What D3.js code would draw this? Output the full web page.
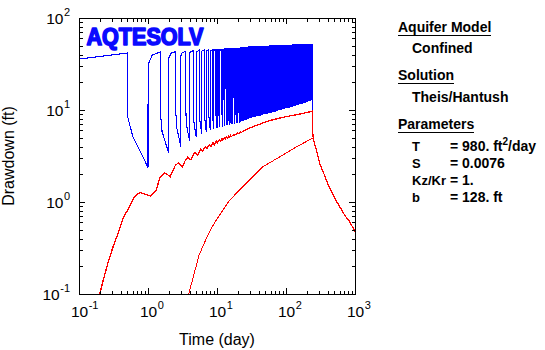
<!DOCTYPE html>
<html><head><meta charset="utf-8">
<script src="https://cdn.jsdelivr.net/npm/d3@7"></script>
<style>
body{margin:0;background:#fff}
svg{display:block}
text{font-family:Arial,"Liberation Sans",sans-serif;fill:#000}
</style>
</head><body>
<svg id="chart" width="545" height="350"></svg>
<script>
// ---------------- DATA ----------------
const xTickExponents = [-1, 0, 1, 2, 3];
const yTickExponents = [-1, 0, 1, 2];
const xTitle = "Time (day)";
const yTitle = "Drawdown (ft)";
const logoText = "AQTESOLV";

const panelHeadings = ["Aquifer Model", "Solution", "Parameters"];
const panelModel = "Confined";
const panelSolution = "Theis/Hantush";
const paramNames = ["T", "S", "Kz/Kr", "b"];
const paramValues = ["= 980. ft", "= 0.0076", "= 1.", "= 128. ft"];
const paramSup = ["2", "", "", ""];
const paramTail = ["/day", "", "", ""];

// Observed drawdown (blue): cyclic pumping, one cycle per day, pump on for the first half day
const pumpOffAt = 0.5;          // day fraction at which the pump stops in each cycle
const blueStart = [0.1, 35.8];  // first visible observation
// drawdown at the end of each pumping half-cycle, cycles k = 0..240
const bluePeak = [
41.6,42.6,43.0,43.0,44.0,44.9,44.9,44.9,44.9,44.9,
44.9,44.9,44.9,46.7,46.7,46.7,46.7,46.7,46.7,46.7,
46.7,46.7,47.7,47.7,47.7,47.7,47.7,47.7,47.7,48.8,
48.8,48.8,48.8,48.8,48.8,48.8,48.8,48.8,48.8,48.8,
48.8,48.8,48.8,48.8,48.8,48.8,48.8,48.8,48.8,48.8,
48.8,48.8,48.8,48.8,48.8,48.8,48.8,48.8,50.0,50.0,
50.0,50.0,50.0,50.0,50.0,50.0,50.0,50.0,50.0,50.0,
50.0,50.0,50.0,50.0,50.0,50.0,50.0,50.0,50.0,50.0,
50.0,50.0,50.0,50.0,50.0,50.0,50.0,50.0,50.0,50.0,
50.0,50.0,50.0,50.0,50.0,50.0,50.0,50.0,50.0,50.0,
50.0,50.0,50.0,50.0,50.0,50.0,50.0,50.0,50.0,50.0,
50.0,50.0,50.0,50.0,50.0,50.0,50.0,50.0,50.0,50.0,
50.0,50.0,50.0,50.0,50.0,51.3,51.3,51.3,51.3,51.3,
51.3,51.3,51.3,51.3,51.3,51.3,51.3,51.3,51.3,51.3,
51.3,51.3,51.3,51.3,51.3,51.3,51.3,51.3,51.3,51.3,
51.3,51.3,51.3,51.3,51.3,51.3,51.3,51.3,51.3,51.3,
51.3,51.3,51.3,51.3,51.3,51.3,51.3,51.3,51.3,51.3,
51.3,51.3,51.3,51.3,51.3,51.3,51.3,51.3,51.3,51.3,
51.3,51.3,51.3,51.3,51.3,51.3,51.3,51.3,51.3,51.3,
51.3,51.3,51.3,51.3,51.3,51.3,51.3,51.3,51.3,51.3,
51.3,51.3,51.3,51.3,51.3,51.3,51.3,51.3,51.3,51.3,
51.3,51.3,51.3,51.3,51.3,51.3,51.3,51.3,51.3,51.3,
51.3,51.3,51.3,51.3,51.3,51.3,51.3,51.3,51.3,51.3,
51.3,51.3,51.3,51.3,51.3,51.3,51.3,51.3,51.3,51.3,
51.3];
// drawdown at the end of each recovery half-cycle (t = k+1), k = 0..239
const blueTrough = [
2.38,3.4,4.0,4.6,5.1,5.5,5.8,6.0,6.2,6.4,
6.5,6.6,6.7,6.8,6.9,7.0,7.0,7.1,7.2,7.2,
7.3,7.4,7.5,7.6,7.7,7.7,7.8,7.9,8.0,8.1,
8.2,8.2,8.3,8.3,8.4,8.4,8.5,8.5,8.6,8.6,
8.7,8.7,8.8,8.8,8.9,8.9,9.0,9.0,9.0,9.0,
9.1,9.1,9.1,9.1,9.2,9.2,9.2,9.2,9.3,9.3,
9.3,9.3,9.4,9.4,9.4,9.4,9.5,9.5,9.5,9.5,
9.7,9.7,9.7,9.7,9.9,9.9,9.9,9.9,10.0,10.0,
10.0,10.1,10.1,10.1,10.1,10.1,10.2,10.2,10.2,10.2,
10.2,10.3,10.3,10.3,10.3,10.3,10.4,10.4,10.4,10.4,
10.4,10.5,10.5,10.5,10.5,10.5,10.6,10.6,10.6,10.6,
10.6,10.7,10.7,10.7,10.7,10.7,10.8,10.8,10.8,10.8,
10.8,10.9,10.9,10.9,10.9,10.9,11.0,11.0,11.0,11.0,
11.0,11.1,11.1,11.1,11.1,11.1,11.2,11.2,11.2,11.2,
11.2,11.3,11.3,11.4,11.4,11.4,11.4,11.4,11.4,11.4,
11.5,11.5,11.5,11.5,11.5,11.5,11.5,11.6,11.6,11.6,
11.6,11.6,11.6,11.6,11.7,11.7,11.7,11.7,11.7,11.7,
11.7,11.8,11.8,11.8,11.8,11.8,11.8,11.8,11.9,11.9,
11.9,11.9,11.9,11.9,11.9,12.0,12.0,12.0,12.0,12.0,
12.0,12.0,12.2,12.2,12.2,12.2,12.2,12.2,12.2,12.3,
12.3,12.3,12.3,12.3,12.3,12.3,12.4,12.4,12.4,12.4,
12.4,12.4,12.4,12.5,12.5,12.5,12.5,12.5,12.5,12.5,
12.6,12.6,12.6,12.6,12.6,12.6,12.6,12.7,12.7,12.7,
12.7,12.7,12.7,12.7,12.8,12.8,12.8,12.8,12.8,12.8];
// early-cycle detail that is visible on the log time axis
const blueRise    = [null, 31, 36.6, 39, 41, 42.5, 43.5, 44, 44.5];      // just after pump on
const blueRiseMid = [null, 39.5, 41.5, 42.3, 43.3];                      // 0.15 d after pump on
const blueDrop = [8.6,10,11,12,13,14,14.5,15,15.5,16,
                  16.5,17,17.5,18,18.5,19,19,19,19.5,19.5,
                  19.5,20,20,20,20.5,20.5,20.5,21,21,21,
                  21.5,21.5,21.5,22,22,22,22,22.5,22.5,22.5,23];          // just after pump off
const blueMid = [5.2,5.8,6.5,7.0,7.6,8.0,8.4,8.7,9.0,9.3,9.6];          // 0.1 d after pump off
// final recovery after pumping stopped
const blueRecT = [240.6, 252, 276, 308, 344, 385, 430, 508, 600, 709, 838, 1000];
const blueRecS = [6.0, 4.72, 3.67, 2.63, 2.13, 1.73, 1.41, 1.10, 0.89, 0.72, 0.61, 0.475];

// Theis/Hantush solution, nearer well (red, upper)
const redUpperT = [0.2,0.228,0.27,0.318,0.377,0.444,0.525,0.62,0.70,0.78,0.917,1.1,1.31,1.51,1.75,1.9,2.1,2.3,2.5,2.75,2.9,3.15,3.4,3.75,3.95,4.2,4.45,4.75,5.0,5.2,5.45,5.75,6.2,6.75,7.15,7.75,8.15,8.75,9.15,9.75,10.15,10.75,11.15,11.75,12.15,12.75,13.15,13.75,14.15,14.75,15.15,15.75,16.15,17.75,18.15,19.75,20.15,21.75,22.15,24,27,30,35,40,46,55,65,81,100,120,143,170,200,236,240.5,240.6,246,252,262,276,292,308,325,344,365,385,407,430,468,508,552,600,652,709,770,838,915,1000];
const redUpperS = [0.1,0.148,0.234,0.341,0.476,0.692,0.854,1.10,1.22,1.27,1.21,1.16,1.35,1.88,2.07,2.0,1.88,2.2,2.52,2.65,2.55,2.42,2.75,3.05,2.95,2.86,3.15,3.45,3.35,3.22,3.45,3.75,3.55,4.0,3.8,4.2,4.0,4.4,4.2,4.6,4.4,4.75,4.55,4.9,4.7,5.0,4.85,5.1,4.95,5.2,5.05,5.3,5.15,5.45,5.35,5.6,5.5,5.75,5.65,5.9,6.15,6.37,6.7,6.95,7.21,7.55,7.85,8.17,8.45,8.7,8.88,9.15,9.4,9.66,9.74,6.05,5.3,4.72,4.2,3.67,3.1,2.63,2.38,2.13,1.93,1.73,1.56,1.41,1.25,1.10,0.99,0.89,0.80,0.72,0.66,0.61,0.54,0.475];

// Theis/Hantush solution, farther well (red, lower)
const redLowerT = [3.89,4.6,5.5,6.85,8.66,10.6,15.3,21.3,29.7,41.4,46.4,81.4,143,241,246,252,262,276,292,308,325,344,365,385,407,430,468,508,552,600,652,709,770,838,915,1000];
const redLowerS = [0.1,0.16,0.265,0.386,0.548,0.70,1.05,1.35,1.73,2.23,2.42,3.10,3.99,4.93,4.85,4.65,4.2,3.67,3.1,2.63,2.38,2.13,1.93,1.73,1.56,1.41,1.25,1.10,0.99,0.89,0.80,0.72,0.66,0.61,0.54,0.475];

// ---------------- CHART ----------------
const svg = d3.select("#chart");
const x = d3.scaleLog().domain([0.1, 1000]).range([79, 355]);
const y = d3.scaleLog().domain([0.1, 100]).range([294, 18]);

// build the blue observation sequence from the cycle arrays
const bluePts = [blueStart];
bluePeak.forEach((pk, k) => {
  if (k > 0) {
    bluePts.push([k, blueTrough[k - 1]]);
    bluePts.push([k + 0.004, blueRise[k] != null ? blueRise[k] : pk]);
    if (blueRiseMid[k] != null) bluePts.push([k + 0.15, blueRiseMid[k]]);
  }
  bluePts.push([k + pumpOffAt, pk]);
  if (k < blueTrough.length) {
    if (blueDrop[k] != null) bluePts.push([k + pumpOffAt + 0.004, blueDrop[k]]);
    if (blueMid[k] != null) bluePts.push([k + pumpOffAt + 0.1, blueMid[k]]);
    bluePts.push([k + 1, blueTrough[k]]);
  }
});
blueRecT.forEach((t, i) => bluePts.push([t, blueRecS[i]]));

const line = d3.line().x(d => x(d[0])).y(d => y(d[1]));

svg.append("defs").append("clipPath").attr("id", "clip")
  .append("rect").attr("x", 79).attr("y", 18).attr("width", 277).attr("height", 277);

const plotG = svg.append("g").attr("clip-path", "url(#clip)");
plotG.append("path").datum(bluePts).attr("d", line)
  .attr("fill", "none").attr("stroke", "#0000ff").attr("stroke-width", 1.1)
  .attr("shape-rendering", "crispEdges");
plotG.append("path").datum(redUpperT.map((t, i) => [t, redUpperS[i]])).attr("d", line)
  .attr("fill", "none").attr("stroke", "#ff0000").attr("stroke-width", 1.3)
  .attr("shape-rendering", "crispEdges");
plotG.append("path").datum(redLowerT.map((t, i) => [t, redLowerS[i]])).attr("d", line)
  .attr("fill", "none").attr("stroke", "#ff0000").attr("stroke-width", 1)
  .attr("shape-rendering", "crispEdges");

// axes: inside ticks on all four sides
const xMajor = xTickExponents.map(e => Math.pow(10, e));
const yMajor = yTickExponents.map(e => Math.pow(10, e));
const isMajor = v => Math.abs(Math.log10(v) - Math.round(Math.log10(v))) < 1e-9;
const xMinor = x.ticks().filter(v => !isMajor(v));
const yMinor = y.ticks().filter(v => !isMajor(v));
const MAJ = 6, MIN = 3.5;
function styleAxis(g) {
  g.select(".domain").remove();
  g.selectAll("line").attr("stroke", "#000").attr("shape-rendering", "crispEdges");
}
[[d3.axisBottom, 294, x, xMajor, xMinor], [d3.axisTop, 18, x, xMajor, xMinor]].forEach(([ax, ty, sc, maj, mn]) => {
  svg.append("g").attr("transform", `translate(0,${ty})`).call(ax(sc).tickValues(maj).tickSize(-MAJ).tickFormat("")).call(styleAxis);
  svg.append("g").attr("transform", `translate(0,${ty})`).call(ax(sc).tickValues(mn).tickSize(-MIN).tickFormat("")).call(styleAxis);
});
[[d3.axisLeft, 79, y, yMajor, yMinor], [d3.axisRight, 355, y, yMajor, yMinor]].forEach(([ax, tx, sc, maj, mn]) => {
  svg.append("g").attr("transform", `translate(${tx},0)`).call(ax(sc).tickValues(maj).tickSize(-MAJ).tickFormat("")).call(styleAxis);
  svg.append("g").attr("transform", `translate(${tx},0)`).call(ax(sc).tickValues(mn).tickSize(-MIN).tickFormat("")).call(styleAxis);
});
svg.append("rect").attr("x", 79.5).attr("y", 18.5).attr("width", 276).attr("height", 276)
  .attr("fill", "none").attr("stroke", "#000").attr("stroke-width", 1).attr("shape-rendering", "crispEdges");

// tick labels "10" with superscript exponent
const BASE_FS = 15.5, EXP_FS = 11;
xTickExponents.forEach(e => {
  const g = svg.append("g").attr("transform", `translate(${x(Math.pow(10, e)) + 0.5},317)`);
  const b = g.append("text").attr("font-size", BASE_FS).attr("text-anchor", "middle").text("10");
  const w = b.node().getComputedTextLength();
  g.append("text").attr("font-size", EXP_FS).attr("x", w / 2 + 0.5).attr("y", -8).text(String(e));
});
yTickExponents.forEach(e => {
  const g = svg.append("g").attr("transform", `translate(70,${y(Math.pow(10, e)) + 6})`);
  const ex = g.append("text").attr("font-size", EXP_FS).attr("text-anchor", "end").attr("y", -8).text(String(e));
  const we = ex.node().getComputedTextLength();
  g.append("text").attr("font-size", BASE_FS).attr("text-anchor", "end").attr("x", -we - 0.5).text("10");
});

// axis titles
svg.append("text").attr("x", 217).attr("y", 345).attr("text-anchor", "middle")
  .attr("font-size", 16).text(xTitle);
svg.append("text").attr("transform", "translate(14,156) rotate(-90)").attr("text-anchor", "middle")
  .attr("font-size", 16).text(yTitle);

// logo
svg.append("text").attr("x", 86.5).attr("y", 44.5).attr("font-family", "'DejaVu Sans'")
  .attr("font-weight", "bold").attr("font-size", 23)
  .style("fill", "#0a0aff").style("stroke", "#0a0aff").style("stroke-width", 1.6)
  .style("stroke-linejoin", "round")
  .attr("textLength", 117).attr("lengthAdjust", "spacingAndGlyphs").text(logoText);

// right-hand information panel
const panel = svg.append("g").attr("font-size", 14).attr("font-weight", "bold");
function heading(txt, yy) {
  const t = panel.append("text").attr("x", 398).attr("y", yy).text(txt);
  const w = t.node().getComputedTextLength();
  panel.append("line").attr("x1", 398).attr("x2", 398 + w).attr("y1", yy + 3.5).attr("y2", yy + 3.5)
    .attr("stroke", "#000").attr("shape-rendering", "crispEdges");
}
heading(panelHeadings[0], 32);
panel.append("text").attr("x", 412).attr("y", 53).text(panelModel);
heading(panelHeadings[1], 80);
panel.append("text").attr("x", 412).attr("y", 102).text(panelSolution);
heading(panelHeadings[2], 129);
paramNames.forEach((nm, i) => {
  const yy = 151 + i * 17;
  panel.append("text").attr("x", 412).attr("y", yy).attr("font-size", 13).text(nm);
  const t = panel.append("text").attr("x", 450).attr("y", yy).attr("font-size", 14);
  t.append("tspan").text(paramValues[i]);
  if (paramSup[i]) {
    t.append("tspan").attr("font-size", 10).attr("dy", -6).text(paramSup[i]);
    t.append("tspan").attr("dy", 6).text(paramTail[i]);
  }
});
</script>
</body></html>
